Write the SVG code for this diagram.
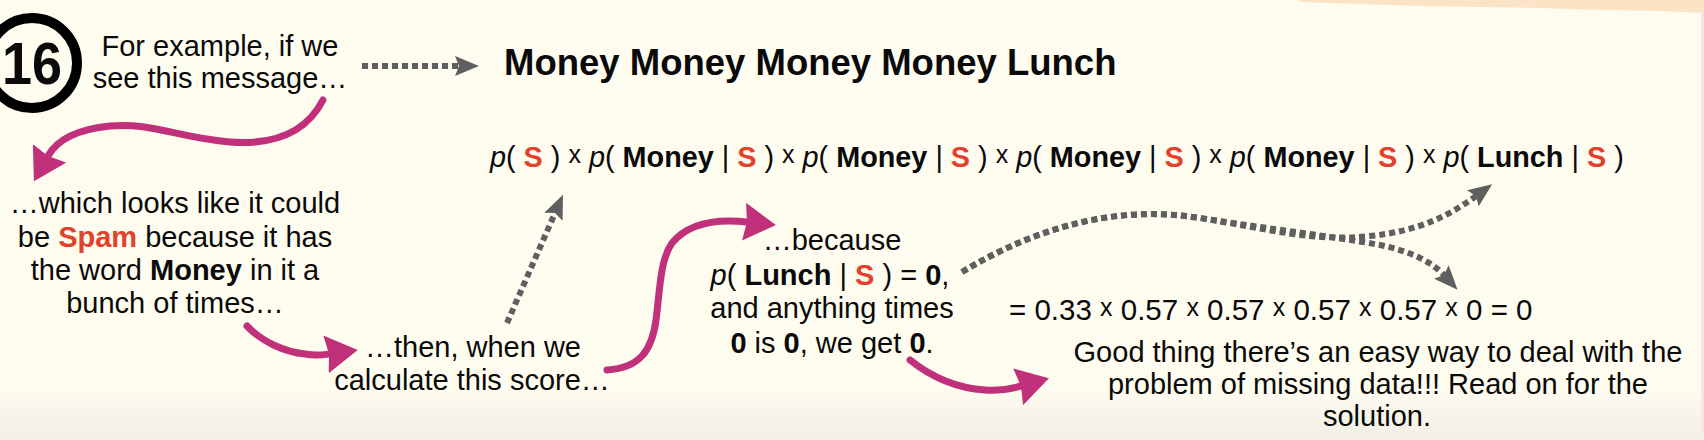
<svg xmlns="http://www.w3.org/2000/svg" width="1704" height="440" viewBox="0 0 1704 440">
<style>
.t{font-family:"Liberation Sans",Arial,Helvetica,sans-serif;font-size:29px;fill:#0a0a0a}
.c{text-anchor:middle}
.b{font-weight:bold}
.r{font-weight:bold;fill:#e2412b}
.i{font-style:italic}
.x{font-size:25px}
.pink{fill:none;stroke:#c1307a;stroke-width:7;stroke-linecap:round}
.dot{fill:none;stroke:#5f5f5f;stroke-width:6;stroke-dasharray:6 4}
</style>
<defs>
<linearGradient id="bg" x1="0" y1="0" x2="0" y2="1">
<stop offset="0" stop-color="#fefcef"/>
<stop offset="0.88" stop-color="#fefcef"/>
<stop offset="1" stop-color="#f1efe5"/>
</linearGradient>
<marker id="gh" markerUnits="userSpaceOnUse" viewBox="0 0 24 20" markerWidth="24" markerHeight="20" refX="4" refY="10" orient="auto"><path d="M0,0 L24,10 L0,20 L4,10 Z" fill="#5f5f5f"/></marker>
<marker id="ph" markerUnits="userSpaceOnUse" viewBox="0 0 32 38" markerWidth="32" markerHeight="38" refX="3" refY="19" orient="auto"><path d="M0,0 L32,19 L0,38 L3,19 Z" fill="#c1307a"/></marker>
</defs>
<rect width="1704" height="440" fill="url(#bg)"/>
<path d="M1300,0 L1704,0 L1704,13 L1660,11 L1600,10 L1540,8 L1480,7 L1420,6 L1360,4 L1300,2 Z" fill="#fbe3c6"/>
<rect x="1701" y="12" width="3" height="420" fill="#f7e6e2"/>

<g id="step-badge">
<circle cx="32" cy="63" r="45" fill="none" stroke="#000" stroke-width="10"/>
<text class="t b c" x="32" y="84" style="font-size:60px" textLength="60" lengthAdjust="spacingAndGlyphs">16</text>
</g>

<g id="intro">
<text class="t c" x="220" y="56">For example, if we</text>
<text class="t c" x="220" y="88">see this message…</text>
</g>

<g id="message">
<text class="t b" x="504" y="75" style="font-size:36.5px">Money Money Money Money Lunch</text>
</g>

<g id="formula">
<text class="t" x="490" y="167" style="font-size:28.8px"><tspan class="i">p</tspan>( <tspan class="r">S</tspan> ) <tspan class="x" dy="-4">x</tspan> <tspan class="i" dy="4">p</tspan>( <tspan class="b">Money</tspan> | <tspan class="r">S</tspan> ) <tspan class="x" dy="-4">x</tspan> <tspan class="i" dy="4">p</tspan>( <tspan class="b">Money</tspan> | <tspan class="r">S</tspan> ) <tspan class="x" dy="-4">x</tspan> <tspan class="i" dy="4">p</tspan>( <tspan class="b">Money</tspan> | <tspan class="r">S</tspan> ) <tspan class="x" dy="-4">x</tspan> <tspan class="i" dy="4">p</tspan>( <tspan class="b">Money</tspan> | <tspan class="r">S</tspan> ) <tspan class="x" dy="-4">x</tspan> <tspan class="i" dy="4">p</tspan>( <tspan class="b">Lunch</tspan> | <tspan class="r">S</tspan> )</text>
</g>

<g id="spam-note">
<text class="t c" x="175" y="213">…which looks like it could</text>
<text class="t c" x="175" y="247">be <tspan class="r">Spam</tspan> because it has</text>
<text class="t c" x="175" y="280">the word <tspan class="b">Money</tspan> in it a</text>
<text class="t c" x="175" y="313">bunch of times…</text>
</g>

<g id="score-note">
<text class="t c" x="473" y="357">…then, when we</text>
<text class="t c" x="472" y="390">calculate this score…</text>
</g>

<g id="because-note">
<text class="t c" x="832" y="250">…because</text>
<text class="t c" x="830" y="285"><tspan class="i">p</tspan>( <tspan class="b">Lunch</tspan> | <tspan class="r">S</tspan> ) = <tspan class="b">0</tspan>,</text>
<text class="t c" x="832" y="318">and anything times</text>
<text class="t c" x="832" y="353"><tspan class="b">0</tspan> is <tspan class="b">0</tspan>, we get <tspan class="b">0</tspan>.</text>
</g>

<g id="result">
<text class="t" x="1009" y="320" style="font-size:29.5px">= 0.33 <tspan class="x" dy="-4">x</tspan> <tspan dy="4">0.57</tspan> <tspan class="x" dy="-4">x</tspan> <tspan dy="4">0.57</tspan> <tspan class="x" dy="-4">x</tspan> <tspan dy="4">0.57</tspan> <tspan class="x" dy="-4">x</tspan> <tspan dy="4">0.57</tspan> <tspan class="x" dy="-4">x</tspan> <tspan dy="4">0 = 0</tspan></text>
</g>

<g id="conclusion">
<text class="t c" x="1378" y="362">Good thing there’s an easy way to deal with the</text>
<text class="t c" x="1378" y="394">problem of missing data!!! Read on for the</text>
<text class="t c" x="1377" y="426">solution.</text>
</g>

<g id="connectors">
<path class="dot" d="M362,66 L459,66" marker-end="url(#gh)"/>
<path class="dot" d="M507,323 L555,213" marker-end="url(#gh)"/>
<path class="dot" d="M962,272 C1040,225 1120,205 1200,218 C1270,229 1310,242 1370,236 C1420,231 1450,215 1476,196" marker-end="url(#gh)"/>
<path class="dot" d="M962,272 C1040,225 1120,205 1200,218 C1270,229 1330,236 1380,245 C1410,251 1432,262 1444,275" marker-end="url(#gh)"/>
<path class="pink" d="M323,100 C305,135 270,145 230,142 C180,138 150,122 110,126 C80,129 58,138 48,156" marker-end="url(#ph)"/>
<path class="pink" d="M247,326 C262,342 285,352 305,354 C316,356 322,355 329,354" marker-end="url(#ph)"/>
<path class="pink" d="M607,370 C640,368 652,350 656,320 C660,290 660,260 672,243 C686,226 710,218 747,222" marker-end="url(#ph)"/>
<path class="pink" d="M910,360 C930,376 955,388 985,390 C1000,391 1010,389 1021,386" marker-end="url(#ph)"/>
</g>
</svg>
